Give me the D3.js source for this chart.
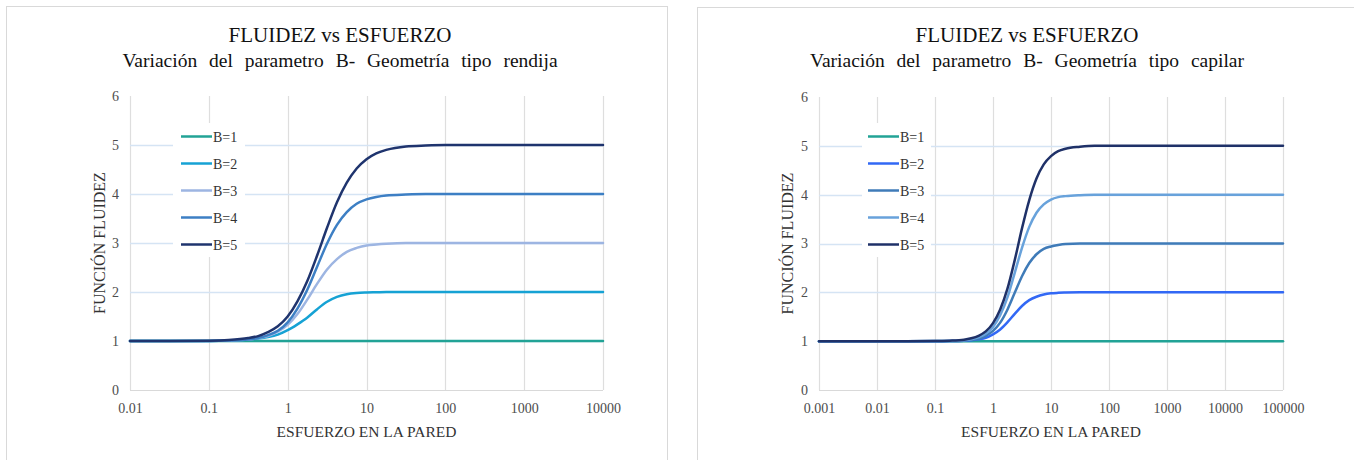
<!DOCTYPE html>
<html>
<head>
<meta charset="utf-8">
<script src="https://cdn.jsdelivr.net/npm/d3@7"></script>
<style>
  html, body { margin: 0; padding: 0; background: #ffffff; }
  svg { display: block; }
  svg text { font-family: "Liberation Serif", "DejaVu Serif", "Noto Serif", "Times New Roman", serif; }
</style>
</head>
<body>
<svg id="chart" width="1354" height="460"></svg>
<script>
// ---- data ----
const seriesNames = ["B=1", "B=2", "B=3", "B=4", "B=5"];
const yTicks = [0, 1, 2, 3, 4, 5, 6];

// Slit geometry (rendija)
const stressRendija = [0.01, 0.0316, 0.1, 0.178, 0.316, 0.422, 0.562, 0.75, 1, 1.33, 1.78, 2.37, 3.16, 4.22, 5.62, 7.5, 10, 13.3, 17.8, 31.6, 56.2, 100, 1000, 10000];
const xTicksRendija = [0.01, 0.1, 1, 10, 100, 1000, 10000];
const rendijaB1 = [1, 1, 1, 1, 1, 1, 1, 1, 1, 1, 1, 1, 1, 1, 1, 1, 1, 1, 1, 1, 1, 1, 1, 1];
const rendijaB2 = [1, 1, 1.002, 1.01, 1.03, 1.05, 1.08, 1.13, 1.22, 1.34, 1.48, 1.65, 1.80, 1.90, 1.955, 1.98, 1.99, 1.995, 2, 2, 2, 2, 2, 2];
const rendijaB3 = [1, 1, 1.002, 1.01, 1.03, 1.06, 1.10, 1.19, 1.33, 1.55, 1.85, 2.17, 2.46, 2.67, 2.82, 2.90, 2.95, 2.97, 2.985, 3, 3, 3, 3, 3];
const rendijaB4 = [1, 1, 1.002, 1.01, 1.03, 1.06, 1.12, 1.21, 1.38, 1.66, 2.05, 2.52, 2.99, 3.37, 3.63, 3.80, 3.89, 3.94, 3.97, 3.99, 4, 4, 4, 4];
const rendijaB5 = [1, 1, 1.006, 1.02, 1.06, 1.10, 1.18, 1.30, 1.50, 1.81, 2.23, 2.75, 3.31, 3.83, 4.23, 4.52, 4.71, 4.83, 4.90, 4.97, 4.99, 5, 5, 5];

// Capillary geometry (capilar)
const stressCapilar = [0.001, 0.01, 0.1, 0.178, 0.316, 0.422, 0.562, 0.75, 1, 1.33, 1.78, 2.37, 3.16, 4.22, 5.62, 7.5, 10, 13.3, 17.8, 31.6, 56.2, 100, 1000, 10000, 100000];
const xTicksCapilar = [0.001, 0.01, 0.1, 1, 10, 100, 1000, 10000, 100000];
const capilarB1 = [1, 1, 1, 1, 1, 1, 1, 1, 1, 1, 1, 1, 1, 1, 1, 1, 1, 1, 1, 1, 1, 1, 1, 1, 1];
const capilarB2 = [1, 1, 1, 1.002, 1.01, 1.02, 1.04, 1.07, 1.14, 1.24, 1.39, 1.56, 1.72, 1.84, 1.91, 1.955, 1.98, 1.99, 1.995, 2, 2, 2, 2, 2, 2];
const capilarB3 = [1, 1, 1.001, 1.003, 1.01, 1.03, 1.05, 1.11, 1.21, 1.38, 1.65, 1.99, 2.33, 2.60, 2.78, 2.89, 2.94, 2.97, 2.99, 3, 3, 3, 3, 3, 3];
const capilarB4 = [1, 1, 1.001, 1.005, 1.02, 1.04, 1.08, 1.15, 1.29, 1.53, 1.90, 2.40, 2.91, 3.34, 3.63, 3.80, 3.90, 3.95, 3.97, 3.99, 4, 4, 4, 4, 4];
const capilarB5 = [1, 1, 1.002, 1.01, 1.03, 1.06, 1.11, 1.20, 1.37, 1.65, 2.08, 2.66, 3.31, 3.89, 4.33, 4.62, 4.79, 4.89, 4.94, 4.98, 5, 5, 5, 5, 5];

// ---- styles ----
const colorsRendija = ["#22a396", "#16a2d4", "#9db5e2", "#3d7fc4", "#1f346e"];
const colorsCapilar = ["#22a396", "#3268f5", "#3f7bb8", "#68a2db", "#1f3168"];

const svg = d3.select("#chart");

function drawPanel(cfg) {
  const g = svg.append("g");

  // panel frame
  g.append("rect")
    .attr("x", cfg.frame[0] + 0.5).attr("y", cfg.frame[1] + 0.5)
    .attr("width", cfg.frame[2]).attr("height", cfg.frame[3])
    .attr("fill", "#ffffff").attr("stroke", "#d9d9d9").attr("stroke-width", 1);

  const x = d3.scaleLog().domain(cfg.xDomain).range([cfg.left, cfg.right]);
  const y = d3.scaleLinear().domain([0, 6]).range([cfg.bottom, cfg.top]);

  // vertical gridlines
  g.append("g").selectAll("line").data(cfg.xTicks).join("line")
    .attr("x1", d => Math.round(x(d)) + 0.5).attr("x2", d => Math.round(x(d)) + 0.5)
    .attr("y1", cfg.top).attr("y2", cfg.bottom)
    .attr("stroke", "#dedede").attr("stroke-width", 1.2);

  // horizontal gridlines
  g.append("g").selectAll("line").data(yTicks.filter(d => d > 0 && d < 6)).join("line")
    .attr("x1", cfg.left).attr("x2", cfg.right)
    .attr("y1", d => Math.round(y(d)) + 0.5).attr("y2", d => Math.round(y(d)) + 0.5)
    .attr("stroke", "#d5e4f4").attr("stroke-width", 1.6);

  // base line at zero
  g.append("line")
    .attr("x1", cfg.left).attr("x2", cfg.right)
    .attr("y1", Math.round(y(0)) + 0.5).attr("y2", Math.round(y(0)) + 0.5)
    .attr("stroke", "#d9d9d9").attr("stroke-width", 1.2);

  // axes (labels only)
  const xAxis = d3.axisBottom(x).tickValues(cfg.xTicks).tickFormat(d => String(d)).tickSize(0).tickPadding(0);
  const xa = g.append("g").attr("transform", `translate(0,${cfg.bottom})`).call(xAxis);
  xa.attr("font-family", null);
  xa.select(".domain").remove();
  xa.selectAll("text")
    .attr("dy", null).attr("y", 23)
    .attr("font-size", 14).attr("fill", "#4d4d4d");

  const yAxis = d3.axisLeft(y).tickValues(yTicks).tickFormat(d3.format("d")).tickSize(0).tickPadding(0);
  const ya = g.append("g").attr("transform", `translate(${cfg.left - 11},0)`).call(yAxis);
  ya.attr("font-family", null);
  ya.select(".domain").remove();
  ya.selectAll("text")
    .attr("font-size", 14).attr("fill", "#4d4d4d");

  // series lines
  const line = d3.line()
    .x(d => x(d[0])).y(d => y(d[1]))
    .curve(d3.curveMonotoneX);

  cfg.series.forEach((vals, i) => {
    const pts = cfg.stress.map((s, k) => [s, vals[k]]);
    g.append("path")
      .datum(pts)
      .attr("d", line)
      .attr("fill", "none")
      .attr("stroke", cfg.colors[i])
      .attr("stroke-width", 2.5)
      .attr("stroke-linejoin", "round")
      .attr("stroke-linecap", "round");
  });

  // titles
  g.append("text")
    .attr("x", cfg.titleX).attr("y", 42)
    .attr("text-anchor", "middle").attr("font-size", 21).attr("fill", "#111111")
    .text("FLUIDEZ vs ESFUERZO");
  g.append("text")
    .attr("x", cfg.titleX).attr("y", 67)
    .attr("text-anchor", "middle").attr("font-size", 19.5).attr("fill", "#111111")
    .attr("word-spacing", 7)
    .text(cfg.subtitle);

  // axis titles
  g.append("text")
    .attr("x", (cfg.left + cfg.right) / 2).attr("y", 437)
    .attr("text-anchor", "middle").attr("font-size", 15.5).attr("fill", "#333333")
    .text("ESFUERZO EN LA PARED");
  g.append("text")
    .attr("transform", `translate(${cfg.yTitleX},${(cfg.top + cfg.bottom) / 2}) rotate(-90)`)
    .attr("text-anchor", "middle").attr("font-size", 16).attr("fill", "#333333")
    .text("FUNCIÓN FLUIDEZ");

  // legend
  const lg = g.append("g");
  lg.append("rect")
    .attr("x", cfg.legend.x).attr("y", cfg.legend.y)
    .attr("width", cfg.legend.w).attr("height", cfg.legend.h)
    .attr("fill", "#ffffff");
  seriesNames.forEach((name, i) => {
    const ry = cfg.legend.y + 13.5 + i * 27;
    lg.append("line")
      .attr("x1", cfg.legend.lineX).attr("x2", cfg.legend.lineX + 31)
      .attr("y1", ry).attr("y2", ry)
      .attr("stroke", cfg.colors[i]).attr("stroke-width", 2.5);
    lg.append("text")
      .attr("x", cfg.legend.lineX + 32).attr("y", ry + 5)
      .attr("font-size", 14).attr("fill", "#333333")
      .text(name);
  });
}

drawPanel({
  frame: [6, 6, 661, 470],
  left: 130, right: 603, top: 96, bottom: 390,
  xDomain: [0.01, 10000], xTicks: xTicksRendija,
  stress: stressRendija,
  series: [rendijaB1, rendijaB2, rendijaB3, rendijaB4, rendijaB5],
  colors: colorsRendija,
  titleX: 340, yTitleX: 105,
  subtitle: "Variación del parametro B- Geometría tipo rendija",
  legend: { x: 173, y: 123, w: 72, h: 134, lineX: 181 }
});

drawPanel({
  frame: [697, 7, 680, 470],
  left: 819, right: 1283, top: 97, bottom: 390,
  xDomain: [0.001, 100000], xTicks: xTicksCapilar,
  stress: stressCapilar,
  series: [capilarB1, capilarB2, capilarB3, capilarB4, capilarB5],
  colors: colorsCapilar,
  titleX: 1027, yTitleX: 793,
  subtitle: "Variación del parametro B- Geometría tipo capilar",
  legend: { x: 862, y: 123, w: 69, h: 134, lineX: 868 }
});
</script>
</body>
</html>
